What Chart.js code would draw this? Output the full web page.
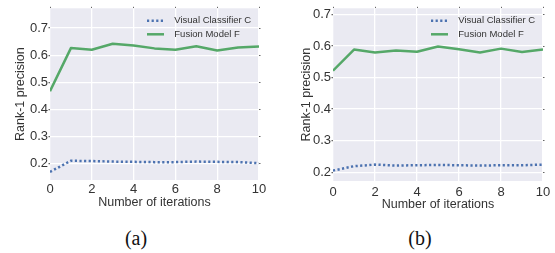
<!DOCTYPE html>
<html>
<head>
    <title>Rank-1 precision</title>
    <script src="https://cdn.jsdelivr.net/npm/chart.js@4/dist/chart.umd.min.js"></script>
    <style>
        body { margin: 0; background: #fff; }
        .panel { position: absolute; top: 0; }
        .cap { position: absolute; top: 228px; width: 60px; text-align: center;
               font: 20px "Liberation Serif", serif; line-height: 20px; color: #111; }
    </style>
</head>
<body>
    <canvas id="chartA" class="panel" style="left:0px" width="275" height="215"></canvas>
    <canvas id="chartB" class="panel" style="left:280px" width="275" height="215"></canvas>
    <div class="cap" style="left:106px">(a)</div>
    <div class="cap" style="left:390px">(b)</div>

    <script>
        // values
        var iterations = [0, 1, 2, 3, 4, 5, 6, 7, 8, 9, 10];
        var visualA = [0.169, 0.210, 0.209, 0.207, 0.206, 0.205, 0.205, 0.207, 0.206, 0.205, 0.201];
        var fusionA = [0.467, 0.626, 0.620, 0.642, 0.636, 0.625, 0.620, 0.633, 0.617, 0.628, 0.632];
        var visualB = [0.205, 0.219, 0.224, 0.221, 0.222, 0.223, 0.222, 0.221, 0.222, 0.222, 0.224];
        var fusionB = [0.522, 0.589, 0.580, 0.586, 0.582, 0.599, 0.590, 0.580, 0.592, 0.581, 0.589];
        var xTicks = [0, 2, 4, 6, 8, 10];
        var yTicks = [0.2, 0.3, 0.4, 0.5, 0.6, 0.7];
        var seriesNames = ['Visual Classifier C', 'Fusion Model F'];

        var textColor = '#333333';
        var tickMark = '#666666';
        var fontName = '"Liberation Sans", Arial, sans-serif';

        function points(vals) {
            return iterations.map(function (x, i) { return { x: x, y: vals[i] }; });
        }
        function fixTicks(list) {
            return function (s) { s.ticks = list.map(function (v) { return { value: v }; }); };
        }

        var plotBg = {
            id: 'plotBg',
            beforeDraw: function (chart) {
                var a = chart.chartArea, ctx = chart.ctx;
                ctx.save();
                ctx.fillStyle = '#EAEAF2';
                ctx.fillRect(a.left, a.top, a.right - a.left, a.bottom - a.top);
                ctx.restore();
            }
        };

        // legend drawn inside the plot, top right
        var innerLegend = {
            id: 'innerLegend',
            afterDatasetsDraw: function (chart) {
                var a = chart.chartArea, ctx = chart.ctx;
                chart.data.datasets.forEach(function (ds, i) {
                    var y = a.top + 12.5 + i * 13.5;
                    var x0 = a.right - 112;
                    ctx.save();
                    ctx.strokeStyle = ds.borderColor;
                    ctx.lineWidth = ds.borderWidth;
                    ctx.setLineDash(ds.borderDash || []);
                    ctx.beginPath();
                    ctx.moveTo(x0, y);
                    ctx.lineTo(x0 + 17, y);
                    ctx.stroke();
                    ctx.setLineDash([]);
                    ctx.fillStyle = textColor;
                    ctx.font = '9.5px ' + fontName;
                    ctx.textBaseline = 'middle';
                    ctx.fillText(ds.label, x0 + 27.3, y);
                    ctx.restore();
                });
            }
        };

        function makeChart(id, visual, fusion, cfg) {
            var ctx = document.getElementById(id).getContext('2d');
            return new Chart(ctx, {
                type: 'line',
                data: {
                    datasets: [{
                        label: seriesNames[0],
                        data: points(visual),
                        borderColor: '#4C72B0',
                        borderWidth: 2.5,
                        borderDash: [2.2, 2.4],
                        pointRadius: 0,
                        fill: false
                    }, {
                        label: seriesNames[1],
                        data: points(fusion),
                        borderColor: '#55A868',
                        borderWidth: 2.5,
                        borderJoinStyle: 'round',
                        pointRadius: 0,
                        fill: false
                    }]
                },
                options: {
                    responsive: false,
                    animation: false,
                    devicePixelRatio: 1,
                    layout: { padding: { top: cfg.top - 1.5, right: cfg.right - 1.5, left: 0, bottom: 0 } },
                    plugins: { legend: { display: false }, tooltip: { enabled: false } },
                    scales: {
                        x: {
                            type: 'linear',
                            min: 0,
                            max: 10,
                            afterBuildTicks: fixTicks(xTicks),
                            afterFit: function (s) { s.height = cfg.xh; },
                            grid: { color: '#ffffff', lineWidth: 1.3, drawTicks: false },
                            border: { display: false },
                            ticks: {
                                color: textColor,
                                padding: cfg.xpad,
                                maxRotation: 0,
                                font: { family: fontName, size: 13 }
                            },
                            title: {
                                display: true,
                                text: 'Number of iterations',
                                color: textColor,
                                padding: { top: 0, bottom: cfg.xtpad },
                                font: { family: fontName, size: 12.5 }
                            }
                        },
                        xTop: {
                            type: 'linear',
                            position: 'top',
                            min: 0,
                            max: 10,
                            afterBuildTicks: fixTicks(xTicks),
                            afterFit: function (s) { s.height = 1.5; },
                            grid: { drawOnChartArea: false, drawTicks: true, tickLength: 1.5, tickColor: tickMark, lineWidth: 1 },
                            border: { display: false },
                            ticks: { display: false }
                        },
                        y: {
                            min: cfg.ymin,
                            max: cfg.ymax,
                            afterBuildTicks: fixTicks(yTicks),
                            afterFit: function (s) { s.width = cfg.yw; },
                            grid: { color: '#ffffff', lineWidth: 1.3, drawTicks: true, tickLength: 1.5, tickColor: tickMark },
                            border: { display: false },
                            ticks: {
                                color: textColor,
                                padding: 0.5,
                                font: { family: fontName, size: 13 },
                                callback: function (v) { return v.toFixed(1); }
                            },
                            title: {
                                display: true,
                                text: 'Rank-1 precision',
                                color: textColor,
                                padding: { top: cfg.ytpad, bottom: 0 },
                                font: { family: fontName, size: 12.5 }
                            }
                        },
                        yRight: {
                            position: 'right',
                            min: cfg.ymin,
                            max: cfg.ymax,
                            afterBuildTicks: fixTicks(yTicks),
                            afterFit: function (s) { s.width = 1.5; },
                            grid: { drawOnChartArea: false, drawTicks: true, tickLength: 1.5, tickColor: tickMark, lineWidth: 1 },
                            border: { display: false },
                            ticks: { display: false }
                        }
                    }
                },
                plugins: [plotBg, innerLegend]
            });
        }

        makeChart('chartA', visualA, fusionA,
            { top: 7, right: 16, xh: 35, yw: 50, xpad: 2, xtpad: 5, ytpad: 13.5, ymin: 0.139, ymax: 0.773 });
        makeChart('chartB', visualB, fusionB,
            { top: 6, right: 12, xh: 34, yw: 53, xpad: 3.5, xtpad: 3, ytpad: 18.8, ymin: 0.172, ymax: 0.72 });
    </script>
</body>
</html>
